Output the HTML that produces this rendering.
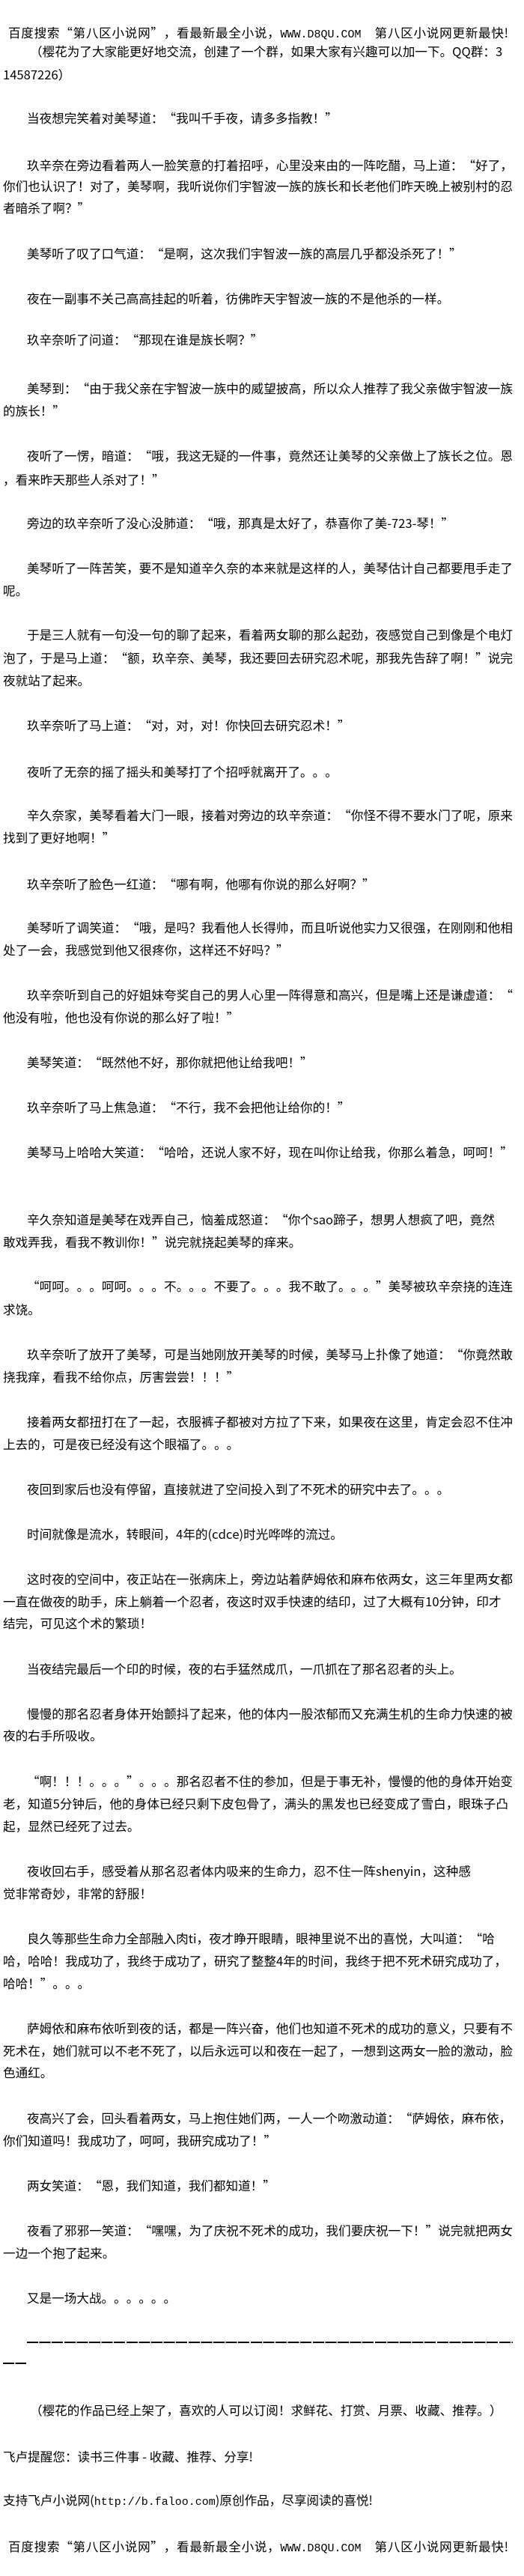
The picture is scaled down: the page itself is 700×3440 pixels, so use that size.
<!DOCTYPE html>
<html><head><meta charset="utf-8">
<style>
html,body{margin:0;padding:0;background:#fff;}
body{width:700px;height:3440px;position:relative;overflow:hidden;
font-family:"Noto Sans CJK SC","Liberation Sans","WenQuanYi Zen Hei",sans-serif;font-size:16.6px;color:#000;
text-spacing-trim:space-all;font-feature-settings:"chws" 0,"halt" 0,"palt" 0;font-kerning:none;}
.l{position:absolute;left:4px;white-space:nowrap;line-height:30px;height:30px;}
.i{left:36px;}
.f{width:681px;text-align:justify;text-align-last:justify;white-space:normal;overflow:visible;}
.i.f{width:649px;}
.m{font-family:"Liberation Mono","Noto Sans CJK SC",monospace;}
.dash{position:absolute;height:1.5px;background:repeating-linear-gradient(90deg,#000 0 15px,transparent 15px 16.6px);}
</style></head><body>
<div class="l f" style="left:11px;width:668px;top:28px">百度搜索“第八区小说网”，看最新最全小说，<span class="m" style="font-size:15px">WWW.D8QU.COM</span>　第八区小说网更新最快!</div>
<div class="l" style="left:40px;top:53px">（樱花为了大家能更好地交流，创建了一个群，如果大家有兴趣可以加一下。QQ群：3</div>
<div class="l" style="top:84px">14587226）</div>

<div class="l i" style="top:142px">当夜想完笑着对美琴道：“我叫千手夜，请多多指教！”</div>
<div class="l i f" style="top:205px">玖辛奈在旁边看着两人一脸笑意的打着招呼，心里没来由的一阵吃醋，马上道：“好了，</div>
<div class="l f" style="top:233px">你们也认识了！对了，美琴啊，我听说你们宇智波一族的族长和长老他们昨天晚上被别村的忍</div>
<div class="l" style="top:262px">者暗杀了啊？”</div>

<div class="l i" style="top:323px">美琴听了叹了口气道：“是啊，这次我们宇智波一族的高层几乎都没杀死了！”</div>
<div class="l i" style="top:383px">夜在一副事不关己高高挂起的听着，彷佛昨天宇智波一族的不是他杀的一样。</div>
<div class="l i" style="top:438px">玖辛奈听了问道：“那现在谁是族长啊？”</div>
<div class="l i f" style="top:503px">美琴到：“由于我父亲在宇智波一族中的威望披高，所以众人推荐了我父亲做宇智波一族</div>
<div class="l" style="top:533px">的族长！”</div>

<div class="l i f" style="top:593px">夜听了一愣，暗道：“哦，我这无疑的一件事，竟然还让美琴的父亲做上了族长之位。恩</div>
<div class="l" style="top:625px">，看来昨天那些人杀对了！”</div>
<div class="l i" style="top:683px">旁边的玖辛奈听了没心没肺道：“哦，那真是太好了，恭喜你了美-723-琴！”</div>
<div class="l i f" style="top:743px">美琴听了一阵苦笑，要不是知道辛久奈的本来就是这样的人，美琴估计自己都要甩手走了</div>
<div class="l" style="top:773px">呢。</div>
<div class="l i f" style="top:832px">于是三人就有一句没一句的聊了起来，看着两女聊的那么起劲，夜感觉自己到像是个电灯</div>
<div class="l f" style="top:863px">泡了，于是马上道：“额，玖辛奈、美琴，我还要回去研究忍术呢，那我先告辞了啊！”说完</div>
<div class="l" style="top:893px">夜就站了起来。</div>

<div class="l i" style="top:953px">玖辛奈听了马上道：“对，对，对！你快回去研究忍术！”</div>
<div class="l i" style="top:1015px">夜听了无奈的摇了摇头和美琴打了个招呼就离开了。。。</div>
<div class="l i f" style="top:1073px">辛久奈家，美琴看着大门一眼，接着对旁边的玖辛奈道：“你怪不得不要水门了呢，原来</div>
<div class="l" style="top:1103px">找到了更好地啊！”</div>

<div class="l i" style="top:1165px">玖辛奈听了脸色一红道：“哪有啊，他哪有你说的那么好啊？”</div>
<div class="l i f" style="top:1223px">美琴听了调笑道：“哦，是吗？我看他人长得帅，而且听说他实力又很强，在刚刚和他相</div>
<div class="l" style="top:1253px">处了一会，我感觉到他又很疼你，这样还不好吗？”</div>
<div class="l i f" style="top:1313px">玖辛奈听到自己的好姐妹夸奖自己的男人心里一阵得意和高兴，但是嘴上还是谦虚道：“</div>
<div class="l" style="top:1343px">他没有啦，他也没有你说的那么好了啦！”</div>
<div class="l i" style="top:1403px">美琴笑道：“既然他不好，那你就把他让给我吧！”</div>

<div class="l i" style="top:1463px">玖辛奈听了马上焦急道：“不行，我不会把他让给你的！”</div>
<div class="l i f" style="top:1523px">美琴马上哈哈大笑道：“哈哈，还说人家不好，现在叫你让给我，你那么着急，呵呵！”</div>
<div class="l i f" style="width:625px;top:1613px">辛久奈知道是美琴在戏弄自己，恼羞成怒道：“你个sao蹄子，想男人想疯了吧，竟然</div>
<div class="l" style="top:1643px">敢戏弄我，看我不教训你！”说完就挠起美琴的痒来。</div>
<div class="l i f" style="top:1702px">“呵呵。。。呵呵。。。不。。。不要了。。。我不敢了。。。”美琴被玖辛奈挠的连连</div>
<div class="l" style="top:1733px">求饶。</div>

<div class="l i f" style="top:1793px">玖辛奈听了放开了美琴，可是当她刚放开美琴的时候，美琴马上扑像了她道：“你竟然敢</div>
<div class="l" style="top:1823px">挠我痒，看我不给你点，厉害尝尝！！！”</div>
<div class="l i f" style="top:1883px">接着两女都扭打在了一起，衣服裤子都被对方拉了下来，如果夜在这里，肯定会忍不住冲</div>
<div class="l" style="top:1913px">上去的，可是夜已经没有这个眼福了。。。</div>
<div class="l i" style="top:1973px">夜回到家后也没有停留，直接就进了空间投入到了不死术的研究中去了。。。</div>

<div class="l i" style="top:2033px">时间就像是流水，转眼间，4年的(cdce)时光哗哗的流过。</div>
<div class="l i f" style="top:2093px">这时夜的空间中，夜正站在一张病床上，旁边站着萨姆依和麻布依两女，这三年里两女都</div>
<div class="l" style="top:2123px">一直在做夜的助手，床上躺着一个忍者，夜这时双手快速的结印，过了大概有10分钟，印才</div>
<div class="l" style="top:2152px">结完，可见这个术的繁琐！</div>
<div class="l i" style="top:2213px">当夜结完最后一个印的时候，夜的右手猛然成爪，一爪抓在了那名忍者的头上。</div>
<div class="l i f" style="top:2273px">慢慢的那名忍者身体开始颤抖了起来，他的体内一股浓郁而又充满生机的生命力快速的被</div>
<div class="l" style="top:2302px">夜的右手所吸收。</div>

<div class="l i f" style="top:2363px">“啊！！！。。。”。。。那名忍者不住的参加，但是于事无补，慢慢的他的身体开始变</div>
<div class="l f" style="width:675px;top:2393px">老，知道5分钟后，他的身体已经只剩下皮包骨了，满头的黑发也已经变成了雪白，眼珠子凸</div>
<div class="l" style="top:2423px">起，显然已经死了过去。</div>
<div class="l i f" style="width:593px;top:2483px">夜收回右手，感受着从那名忍者体内吸来的生命力，忍不住一阵shenyin，这种感</div>
<div class="l" style="top:2513px">觉非常奇妙，非常的舒服！</div>
<div class="l i" style="top:2573px">良久等那些生命力全部融入肉ti，夜才睁开眼睛，眼神里说不出的喜悦，大叫道：“哈</div>
<div class="l" style="top:2603px">哈，哈哈！我成功了，我终于成功了，研究了整整4年的时间，我终于把不死术研究成功了，</div>
<div class="l" style="top:2633px">哈哈！”。。。</div>

<div class="l i f" style="top:2693px">萨姆依和麻布依听到夜的话，都是一阵兴奋，他们也知道不死术的成功的意义，只要有不</div>
<div class="l f" style="top:2723px">死术在，她们就可以不老不死了，以后永远可以和夜在一起了，一想到这两女一脸的激动，脸</div>
<div class="l" style="top:2752px">色通红。</div>
<div class="l i" style="top:2813px">夜高兴了会，回头看着两女，马上抱住她们两，一人一个吻激动道：“萨姆依，麻布依，</div>
<div class="l" style="top:2843px">你们知道吗！我成功了，呵呵，我研究成功了！”</div>

<div class="l i" style="top:2903px">两女笑道：“恩，我们知道，我们都知道！”</div>
<div class="l i f" style="top:2963px">夜看了邪邪一笑道：“嘿嘿，为了庆祝不死术的成功，我们要庆祝一下！”说完就把两女</div>
<div class="l" style="top:2993px">一边一个抱了起来。</div>
<div class="l i" style="top:3053px">又是一场大战。。。。。。</div>
<div class="dash" style="left:36px;width:649px;top:3127px"></div>
<div class="dash" style="left:4px;width:31px;top:3155px"></div>

<div class="l" style="left:40px;top:3203px">（樱花的作品已经上架了，喜欢的人可以订阅！求鲜花、打赏、月票、收藏、推荐。）</div>
<div class="l" style="top:3265px">飞卢提醒您：读书三件事 - 收藏、推荐、分享!</div>
<div class="l" style="top:3323px">支持飞卢小说网(<span class="m" style="font-size:15px">http://b.faloo.com</span>)原创作品，尽享阅读的喜悦!</div>
<div class="l f" style="left:11px;width:668px;top:3385px">百度搜索“第八区小说网”，看最新最全小说，<span class="m" style="font-size:15px">WWW.D8QU.COM</span>　第八区小说网更新最快!</div>
</body></html>
